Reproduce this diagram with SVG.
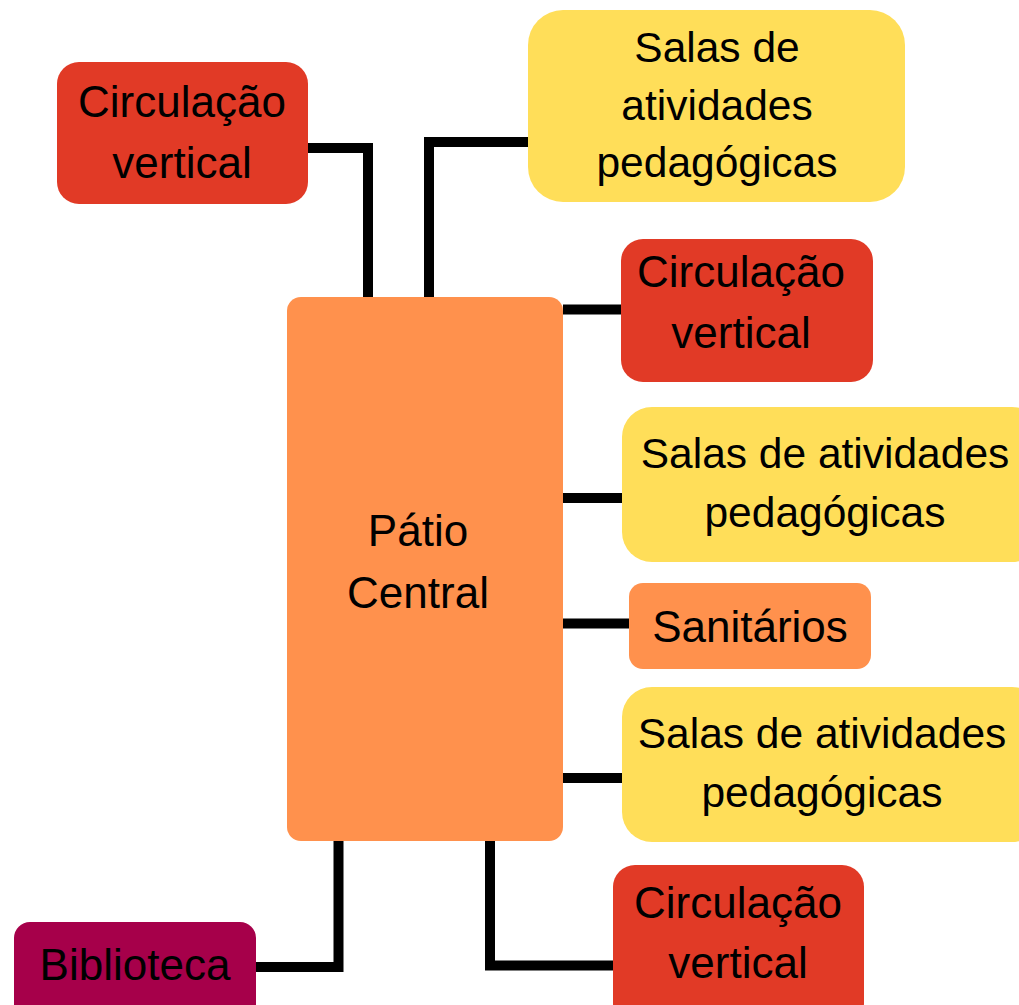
<svg xmlns="http://www.w3.org/2000/svg" width="1019" height="1005" viewBox="0 0 1019 1005">
<style>
.red{fill:#E13A26}
.yel{fill:#FFDE59}
.org{fill:#FF914D}
.lib{fill:#A6004A}
.t{font-family:"Liberation Sans",Arial,sans-serif;fill:#000;text-anchor:middle}
.t44{font-size:44px}
.t42{font-size:42.5px}
.c{fill:none;stroke:#000;stroke-width:10}
</style>
<rect width="1019" height="1005" fill="#fff"/>
<g id="connectors">
<polyline class="c" points="308,148 368,148 368,297"/>
<polyline class="c" points="429,297 429,142 528,142"/>
<line class="c" x1="563" y1="309.5" x2="621" y2="309.5"/>
<line class="c" x1="563" y1="498" x2="622" y2="498"/>
<line class="c" x1="563" y1="623.5" x2="629" y2="623.5"/>
<line class="c" x1="563" y1="778" x2="622" y2="778"/>
<polyline class="c" points="338.5,841 338.5,967 256,967"/>
<polyline class="c" points="490,841 490,965.5 613,965.5"/>
</g>
<g id="patio">
<rect class="org" x="287" y="297" width="276" height="544" rx="14"/>
<text class="t t44" x="418" y="546">Pátio</text>
<text class="t t44" x="418" y="608">Central</text>
</g>
<g id="circ1">
<rect class="red" x="57" y="62" width="251" height="142" rx="22"/>
<text class="t t44" x="182" y="117">Circulação</text>
<text class="t t44" x="182" y="178">vertical</text>
</g>
<g id="salas1">
<rect class="yel" x="528" y="10" width="377" height="192" rx="35"/>
<text class="t t42" x="717" y="62">Salas de</text>
<text class="t t42" x="717" y="120">atividades</text>
<text class="t t42" x="717" y="177">pedagógicas</text>
</g>
<g id="circ2">
<rect class="red" x="621" y="239" width="252" height="143" rx="22"/>
<text class="t t44" x="741" y="287">Circulação</text>
<text class="t t44" x="741" y="348">vertical</text>
</g>
<g id="salas2">
<rect class="yel" x="622" y="407" width="420" height="155" rx="30"/>
<text class="t t42" x="825" y="468">Salas de atividades</text>
<text class="t t42" x="825" y="527">pedagógicas</text>
</g>
<g id="sanitarios">
<rect class="org" x="629" y="583" width="242" height="86" rx="14"/>
<text class="t t44" x="750" y="642">Sanitários</text>
</g>
<g id="salas3">
<rect class="yel" x="622" y="687" width="420" height="155" rx="30"/>
<text class="t t42" x="822" y="748">Salas de atividades</text>
<text class="t t42" x="822" y="807">pedagógicas</text>
</g>
<g id="biblioteca">
<rect class="lib" x="14" y="922" width="242" height="110" rx="16"/>
<text class="t t44" x="135" y="980">Biblioteca</text>
</g>
<g id="circ3">
<rect class="red" x="613" y="865" width="251" height="160" rx="22"/>
<text class="t t44" x="738" y="918">Circulação</text>
<text class="t t44" x="738" y="978">vertical</text>
</g>
</svg>
